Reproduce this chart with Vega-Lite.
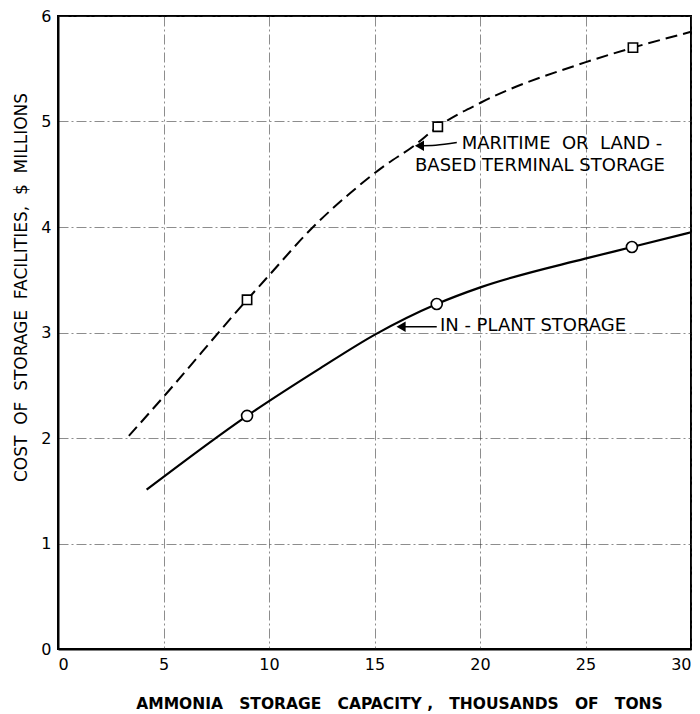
{
  "$schema": "https://vega.github.io/schema/vega-lite/v6.json",
  "width": 633,
  "height": 633,
  "autosize": {"type": "none"},
  "padding": {"left": 58, "top": 16, "right": 9, "bottom": 65},
  "background": "white",
  "config": {
    "view": {"stroke": "black", "strokeWidth": 2},
    "font": "DejaVu Sans",
    "axis": {
      "labelFont": "DejaVu Sans",
      "labelFontSize": 16,
      "labelColor": "black",
      "titleFont": "DejaVu Sans",
      "titleColor": "black",
      "domainColor": "black",
      "domainWidth": 2,
      "ticks": false,
      "labelPadding": 7,
      "gridColor": "#333",
      "gridWidth": 0.8,
      "gridOpacity": 0.7,
      "gridDash": [10, 3, 2, 3]
    }
  },
  "datasets": {
    "curves": [
      {"series": "terminal", "x": 3.36, "y": 2.02},
      {"series": "terminal", "x": 5.0, "y": 2.39},
      {"series": "terminal", "x": 8.96, "y": 3.31},
      {"series": "terminal", "x": 9.95, "y": 3.53},
      {"series": "terminal", "x": 12.09, "y": 4.0},
      {"series": "terminal", "x": 13.84, "y": 4.32},
      {"series": "terminal", "x": 15.4, "y": 4.57},
      {"series": "terminal", "x": 16.87, "y": 4.77},
      {"series": "terminal", "x": 18.0, "y": 4.95},
      {"series": "terminal", "x": 20.05, "y": 5.18},
      {"series": "terminal", "x": 24.98, "y": 5.56},
      {"series": "terminal", "x": 27.25, "y": 5.7},
      {"series": "terminal", "x": 30.0, "y": 5.85},
      {"series": "plant", "x": 4.2, "y": 1.51},
      {"series": "plant", "x": 8.96, "y": 2.21},
      {"series": "plant", "x": 12.42, "y": 2.66},
      {"series": "plant", "x": 15.02, "y": 2.98},
      {"series": "plant", "x": 17.95, "y": 3.27},
      {"series": "plant", "x": 20.05, "y": 3.43},
      {"series": "plant", "x": 24.98, "y": 3.7},
      {"series": "plant", "x": 27.2, "y": 3.81},
      {"series": "plant", "x": 30.0, "y": 3.95}
    ],
    "markers": [
      {"series": "terminal", "x": 8.96, "y": 3.31},
      {"series": "terminal", "x": 18.0, "y": 4.95},
      {"series": "terminal", "x": 27.25, "y": 5.7},
      {"series": "plant", "x": 8.96, "y": 2.21},
      {"series": "plant", "x": 17.95, "y": 3.27},
      {"series": "plant", "x": 27.2, "y": 3.81}
    ],
    "labels": [
      {"text": "MARITIME\u00a0 OR\u00a0 LAND -", "x": 19.13, "y": 4.737},
      {"text": "BASED TERMINAL STORAGE", "x": 16.92, "y": 4.534},
      {"text": "IN - PLANT STORAGE", "x": 18.1, "y": 3.01}
    ],
    "arrows": [
      {"arrow": "a", "order": 1, "x": 18.9, "y": 4.8},
      {"arrow": "a", "order": 2, "x": 17.9, "y": 4.775},
      {"arrow": "a", "order": 3, "x": 17.0, "y": 4.77},
      {"arrow": "b", "order": 1, "x": 17.95, "y": 3.055},
      {"arrow": "b", "order": 2, "x": 16.2, "y": 3.055}
    ],
    "heads": [
      {"x": 17.13, "y": 4.77},
      {"x": 16.26, "y": 3.055}
    ]
  },
  "encoding": {
    "x": {
      "field": "x",
      "type": "quantitative",
      "scale": {"domain": [0, 30], "nice": false},
      "axis": {
        "values": [0, 5, 10, 15, 20, 25, 30],
        "title": "AMMONIA\u00a0\u00a0 STORAGE\u00a0\u00a0 CAPACITY ,\u00a0\u00a0 THOUSANDS\u00a0\u00a0 OF\u00a0\u00a0 TONS",
        "titleFontSize": 15.5,
        "titleFontWeight": "bold",
        "titleX": 341,
        "titleY": 59,
        "titleAlign": "center",
        "titleBaseline": "alphabetic"
      }
    },
    "y": {
      "field": "y",
      "type": "quantitative",
      "scale": {"domain": [0, 6], "nice": false},
      "axis": {
        "values": [0, 1, 2, 3, 4, 5, 6],
        "title": "COST\u00a0 OF\u00a0 STORAGE\u00a0 FACILITIES,\u00a0 $\u00a0 MILLIONS",
        "titleFontSize": 17,
        "titleFontWeight": "normal",
        "titleX": -32,
        "titleY": 271,
        "titleAlign": "center",
        "titleBaseline": "alphabetic"
      }
    }
  },
  "layer": [
    {
      "data": {"name": "curves"},
      "transform": [{"filter": "datum.series === 'terminal'"}],
      "mark": {"type": "line", "interpolate": "monotone", "color": "black", "strokeWidth": 2, "strokeDash": [12, 6]}
    },
    {
      "data": {"name": "curves"},
      "transform": [{"filter": "datum.series === 'plant'"}],
      "mark": {"type": "line", "interpolate": "monotone", "color": "black", "strokeWidth": 2.2}
    },
    {
      "data": {"name": "markers"},
      "transform": [{"filter": "datum.series === 'terminal'"}],
      "mark": {"type": "point", "shape": "square", "size": 86, "filled": false, "fill": "white", "fillOpacity": 1, "stroke": "black", "strokeWidth": 1.6, "opacity": 1}
    },
    {
      "data": {"name": "markers"},
      "transform": [{"filter": "datum.series === 'plant'"}],
      "mark": {"type": "point", "shape": "circle", "size": 121, "filled": false, "fill": "white", "fillOpacity": 1, "stroke": "black", "strokeWidth": 1.6, "opacity": 1}
    },
    {
      "data": {"name": "arrows"},
      "mark": {"type": "line", "interpolate": "monotone", "color": "black", "strokeWidth": 1.5},
      "encoding": {"detail": {"field": "arrow"}, "order": {"field": "order"}}
    },
    {
      "data": {"name": "heads"},
      "mark": {"type": "point", "shape": "triangle-left", "size": 110, "filled": true, "color": "black", "opacity": 1}
    },
    {
      "data": {"name": "labels"},
      "mark": {"type": "text", "align": "left", "baseline": "alphabetic", "fontSize": 18, "font": "DejaVu Sans", "color": "black"},
      "encoding": {"text": {"field": "text"}}
    }
  ]
}
